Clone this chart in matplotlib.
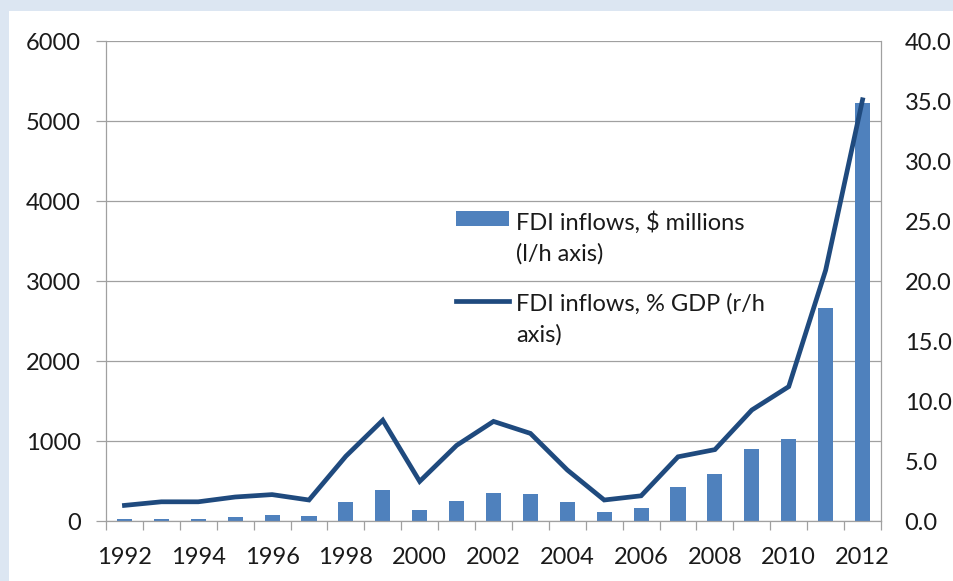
import matplotlib.pyplot as plt
from matplotlib.patches import Rectangle

years = list(range(1992, 2013))
# FDI inflows, $ millions
fdi_usd = [20, 22, 25, 50, 80, 60, 237, 383, 141, 254, 346, 333, 237,
           108, 158, 429, 587, 896, 1021, 2659, 5221]
# FDI inflows, % of GDP
fdi_gdp = [1.3, 1.6, 1.6, 2.0, 2.2, 1.75, 5.4, 8.4, 3.3, 6.3, 8.3, 7.3, 4.25,
           1.75, 2.1, 5.35, 5.95, 9.25, 11.2, 20.9, 35.1]

bar_color = '#4f81bd'
line_color = '#1f4a7e'
grid_color = '#a0a0a0'
text_color = '#1a1a1a'

plt.rcParams['font.family'] = ['Lato', 'DejaVu Sans']
plt.rcParams['font.size'] = 17

fig = plt.figure(figsize=(9.54, 5.81), dpi=100)
fig.patch.set_facecolor('#dce6f2')
# white chart panel inside the light blue frame
fig.patches.append(Rectangle((9 / 954, 0), 1, (581 - 11) / 581,
                             transform=fig.transFigure, facecolor='white',
                             edgecolor='none', zorder=-1))

ax = fig.add_axes([106 / 954, 60 / 581, 775 / 954, 480 / 581])
ax.set_facecolor('none')
x = list(range(len(years)))
bars = ax.bar(x, fdi_usd, width=0.41, color=bar_color,
              label='FDI inflows, $ millions\n(l/h axis)', zorder=2)
ax.set_xlim(-0.5, len(years) - 0.5)
ax.set_ylim(0, 6000)
ax.set_yticks(range(0, 6001, 1000))
ax.yaxis.grid(True, color=grid_color, linewidth=0.9)
ax.set_axisbelow(True)

ax.set_xticks(x[::2])
ax.set_xticklabels([str(y) for y in years[::2]])
ax.set_xticks([i - 0.5 for i in range(len(years) + 1)], minor=True)
ax.tick_params(axis='x', which='major', length=0, pad=19, colors=text_color)
ax.tick_params(axis='x', which='minor', length=6.5, width=0.9, color=grid_color)
ax.tick_params(axis='y', length=7.2, width=0.9, color=grid_color, pad=11,
               labelcolor=text_color)

for s in ['left', 'right', 'bottom']:
    ax.spines[s].set_color(grid_color)
    ax.spines[s].set_linewidth(0.9)
ax.spines['top'].set_visible(False)

ax2 = ax.twinx()
line, = ax2.plot(x, fdi_gdp, color=line_color, linewidth=3.4,
                 solid_joinstyle='miter',
                 label='FDI inflows, % GDP (r/h\naxis)', zorder=3)
ax2.set_ylim(0, 40)
ax2.set_yticks(range(0, 41, 5))
ax2.set_yticklabels(['%.1f' % v for v in range(0, 41, 5)])
ax2.tick_params(axis='y', length=0, pad=17, labelcolor=text_color)
for s in ax2.spines.values():
    s.set_visible(False)

leg = ax2.legend([bars, line], [bars.get_label(), line.get_label()],
                 loc='upper left', bbox_to_anchor=(456 / 954, (581 - 211) / 581),
                 bbox_transform=fig.transFigure, frameon=False, borderpad=0,
                 borderaxespad=0, handlelength=2.25, handleheight=0.6,
                 handletextpad=0.3, labelspacing=1.22, fontsize=17)
for t in leg.get_texts():
    t.set_linespacing(1.52)
    t.set_color(text_color)
# put the legend keys level with the first line of each label
for col in leg._legend_handle_box.get_children():
    for row in col.get_children():
        row.align = 'top'

fig.savefig('out.png', dpi=100, facecolor=fig.get_facecolor())
